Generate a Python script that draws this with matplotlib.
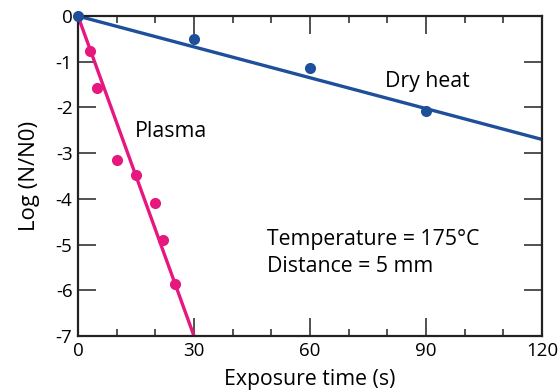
import matplotlib.pyplot as plt
from matplotlib.ticker import MultipleLocator

plt.rcParams['font.family'] = ['Open Sans', 'DejaVu Sans']
plt.rcParams['axes.unicode_minus'] = False

# data
dry_time = [0, 30, 60, 90]
dry_log = [0, -0.51, -1.13, -2.07]
dry_fit_time = [0, 120]
dry_fit_log = [0, -2.70]

plasma_time = [3, 5, 10, 15, 20, 22, 25]
plasma_log = [-0.76, -1.58, -3.15, -3.48, -4.10, -4.89, -5.87]
plasma_fit_time = [0, 30]
plasma_fit_log = [0, -7]

blue = '#1d4f9a'
pink = '#e6177f'

fig = plt.figure(figsize=(5.59, 3.91), dpi=100)
ax = fig.add_axes([0.1395, 0.1407, 0.8301, 0.8183])

ax.plot(plasma_fit_time, plasma_fit_log, color=pink, lw=2.4, zorder=2)
ax.plot(plasma_time, plasma_log, 'o', color=pink, ms=8, mew=0, zorder=3)
ax.plot(dry_fit_time, dry_fit_log, color=blue, lw=2.4, zorder=2)
ax.plot(dry_time, dry_log, 'o', color=blue, ms=8, mew=0, zorder=4, clip_on=False)

ax.set_xlim(0, 120)
ax.set_ylim(-7, 0)
ax.xaxis.set_major_locator(MultipleLocator(30))
ax.xaxis.set_minor_locator(MultipleLocator(10))
ax.yaxis.set_major_locator(MultipleLocator(1))
ax.tick_params(which='both', direction='in', top=True, right=True,
               width=1.1, color='#222222', labelsize=13.5, pad=4)
ax.tick_params(which='major', length=13)
ax.tick_params(which='minor', length=5)
ax.tick_params(axis='y', pad=4)
for s in ax.spines.values():
    s.set_linewidth(1.6)
    s.set_color('#222222')

ax.set_xlabel('Exposure time (s)', fontsize=15.3, labelpad=7)
ax.set_ylabel('Log (N/N0)', fontsize=16, labelpad=11)

ax.text(14.7, -2.52, 'Plasma', fontsize=15.3, va='center')
ax.text(79.4, -1.44, 'Dry heat', fontsize=15.3, va='center')
ax.text(49, -4.9, 'Temperature = 175°C', fontsize=15.3, va='center')
ax.text(49, -5.49, 'Distance = 5 mm', fontsize=15.3, va='center')

fig.savefig('out.png', dpi=100)
